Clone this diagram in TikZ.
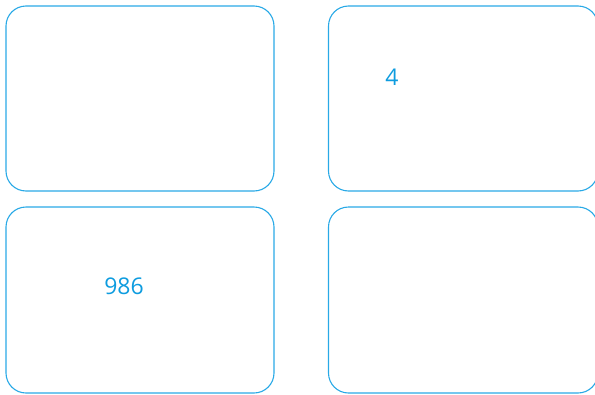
\documentclass[tikz,border=0pt]{standalone}
\usepackage{fontspec}
\setmainfont{Open Sans}
\definecolor{boxline}{HTML}{29A9E6}
\definecolor{boxtext}{HTML}{0E9CDF}
\begin{document}
\begin{tikzpicture}[x=1pt,y=-1pt,
  panel/.style={draw=boxline,line width=1.1pt,rounded corners=20pt},
  val/.style={text=boxtext,font=\fontsize{23}{26}\selectfont,inner sep=0pt}]
\useasboundingbox (0,0) rectangle (595,394);
\draw[panel] (6,6) rectangle (274,191);
\draw[panel] (328.5,6) rectangle (598,191);
\draw[panel] (6,207) rectangle (274,393);
\draw[panel] (328.5,207) rectangle (598,393);
\node[val] (four) at (392,77) {4};
\node[val] (nine) at (124,286) {986};
\end{tikzpicture}
\end{document}
